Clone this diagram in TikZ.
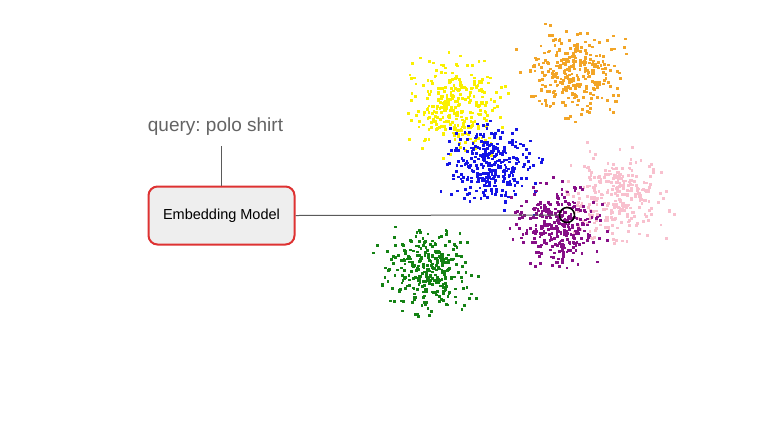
\documentclass[tikz,border=0pt]{standalone}
\usepackage{fontspec}
\setmainfont{Liberation Sans}
\frenchspacing
\definecolor{cyellow}{RGB}{250,240,0}
\definecolor{corange}{RGB}{242,165,40}
\definecolor{cblue}{RGB}{20,20,230}
\definecolor{cpink}{RGB}{248,192,206}
\definecolor{cpurple}{RGB}{135,15,135}
\definecolor{cgreen}{RGB}{20,130,20}
\definecolor{boxred}{RGB}{222,50,50}
\definecolor{boxfill}{RGB}{238,238,238}
\definecolor{linegray}{RGB}{90,90,90}
\definecolor{textgray}{RGB}{100,100,100}
\tikzset{
  modelbox/.style={draw=boxred, fill=boxfill, line width=2pt, rounded corners=9pt,
    minimum width=146pt, minimum height=58pt, font=\fontsize{14.5}{16}\selectfont},
  querytext/.style={text=textgray, font=\fontsize{19}{22}\selectfont, inner sep=0pt},
  conn/.style={draw=linegray, line width=1pt},
  hitmark/.style={circle, draw=black, line width=1.5pt, minimum size=15pt, inner sep=0pt}
}
\begin{document}
\begin{tikzpicture}[x=1pt,y=-1pt]
\useasboundingbox[fill=white] (0,0) rectangle (768,432);
\pgfmathsetseed{7}
\foreach \c/\cx/\cy/\sx/\sy/\n in {cyellow/456/104/22/22/300, corange/576/74/22/19/300, cblue/490/166/20/18/300, cpink/617/196/24/21/300, cpurple/556/226/19/19/300, cgreen/428/270/20/19/300}{
  \foreach \i in {1,...,\n}{
    \pgfmathsetmacro\px{\cx+\sx*(rand+rand+rand)}
    \pgfmathsetmacro\py{\cy+\sy*(rand+rand+rand)}
    \fill[\c] (\px-1.4,\py-1.4) rectangle ++(2.8,2.8);
  }
}
\node[modelbox] (model) at (221.5,215.5) {Embedding Model};
\node[querytext] (query) at (215.5,127) {query: polo shirt};
\node[hitmark] (hit) at (567,215) {};
\draw[conn] (221,146) -- (model.north -| 221,0);
\draw[conn] (model.east) -- (hit.west);
\end{tikzpicture}
\end{document}
